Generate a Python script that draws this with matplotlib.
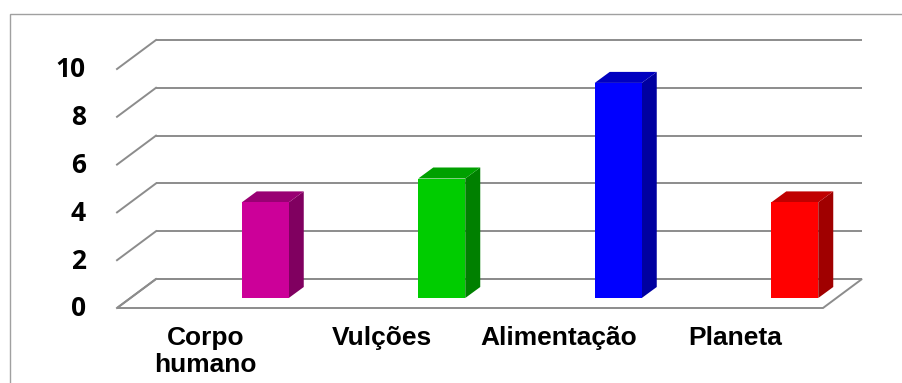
import matplotlib
matplotlib.use("Agg")
import matplotlib.pyplot as plt
from matplotlib.patches import Polygon, Rectangle

categories = ["Corpo\nhumano", "Vulções", "Alimentação", "Planeta"]
values = [4, 5, 9, 4]
face_colors = ["#CC0099", "#00CC00", "#0000FF", "#FF0000"]
side_colors = ["#800060", "#008000", "#0000A0", "#A00000"]
top_colors = ["#990073", "#00A000", "#0000C0", "#C00000"]
y_ticks = [0, 2, 4, 6, 8, 10]

W, H, DPI = 903, 383, 100
fig = plt.figure(figsize=(W / DPI, H / DPI), dpi=DPI)
fig.patch.set_facecolor("white")

# axes = back wall of the pseudo-3D box (pixel layout of the plot area)
wall_l, wall_r, wall_top, wall_bot = 156, 862, 40, 279
ax = fig.add_axes([wall_l / W, (H - wall_bot) / H,
                   (wall_r - wall_l) / W, (wall_bot - wall_top) / H])
ax.set_xlim(-0.5, len(categories) - 0.5)
ax.set_ylim(0, 10)
ax.axis("off")

# pixel -> data unit conversions
px_x = (len(categories)) / (wall_r - wall_l)
px_y = 10 / (wall_bot - wall_top)

def off(dx_px, dy_px):
    """Offset in data units for a screen shift (dy_px positive = up)."""
    return dx_px * px_x, dy_px * px_y

grid_col = "#8C8C8C"
grid_lw = 1.4
x0, x1 = -0.5, len(categories) - 0.5
fx, fy = off(-39, -29)     # depth from back wall to front edge of the floor

# floor
floor = Polygon([(x0, 0), (x1, 0), (x1 + fx, fy), (x0 + fx, fy)], closed=True,
                facecolor="white", edgecolor=grid_col, lw=grid_lw,
                clip_on=False, zorder=1)
ax.add_patch(floor)

# back-wall gridlines and left-wall diagonals
for v in y_ticks:
    ax.plot([x0, x1], [v, v], color=grid_col, lw=grid_lw, clip_on=False,
            zorder=2, solid_capstyle="butt")
    ax.plot([x0, x0 + fx], [v, v + fy], color=grid_col, lw=grid_lw,
            clip_on=False, zorder=2)

# y tick labels (placed at the front of the left wall)
lx, ly0 = off(-70, -1)
for v in y_ticks:
    ax.text(x0 + lx, v + fy + ly0, str(v), ha="right", va="center",
            fontsize=19, fontweight="bold", family="Open Sans", color="black",
            clip_on=False)

# bars
bw = 47 * px_x
bx, by = off(21, -19)       # front face plane relative to the back wall
sx, sy = off(15, 11)        # bar depth
for i, v in enumerate(values):
    xc = i + bx
    xl, xr = xc - bw / 2, xc + bw / 2
    ax.bar(xc, v, width=bw, bottom=by, color=face_colors[i], zorder=5,
           linewidth=0, clip_on=False)
    side = Polygon([(xr, by), (xr, by + v), (xr + sx, by + v + sy),
                    (xr + sx, by + sy)], closed=True,
                   facecolor=side_colors[i], edgecolor="none", zorder=4,
                   clip_on=False)
    top = Polygon([(xl, by + v), (xr, by + v), (xr + sx, by + v + sy),
                   (xl + sx, by + v + sy)], closed=True,
                  facecolor=top_colors[i], edgecolor="none", zorder=4,
                  clip_on=False)
    ax.add_patch(side)
    ax.add_patch(top)

# category labels under the front edge of the floor
_, ly = off(0, -18)
for i, name in enumerate(categories):
    ax.text(i + fx, fy + ly, name, ha="center", va="top", fontsize=19,
            fontweight="bold", family="Liberation Sans", color="black",
            linespacing=1.15, clip_on=False)

# chart-area border (runs off the right and bottom edges)
fig.patches.append(Rectangle((10 / W, -0.2), 1.2, (H - 14) / H + 0.2,
                             transform=fig.transFigure, fill=False,
                             edgecolor="#A0A0A0", lw=1.0))

fig.savefig("out.png", dpi=DPI)
